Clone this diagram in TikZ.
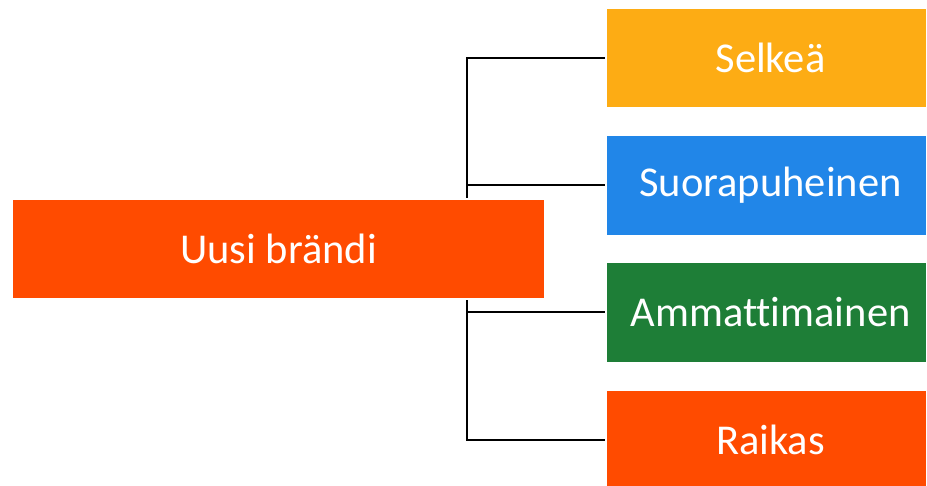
\documentclass[tikz,border=0pt]{standalone}
\usepackage{fontspec}
\setmainfont[Ligatures={NoCommon}]{Carlito}
\usetikzlibrary{backgrounds}
\definecolor{cred}{HTML}{FF4B00}
\definecolor{camber}{HTML}{FDAC14}
\definecolor{cblue}{HTML}{2186E8}
\definecolor{cgreen}{HTML}{1E7E37}
\tikzset{
  box/.style={rectangle, draw=white, line width=1.5pt, text=white, inner sep=0pt,
    font=\fontsize{42.5}{50}\selectfont},
  rbox/.style={box, minimum width=321pt, minimum height=100pt},
  conn/.style={draw=black, line width=2pt}
}
\begin{document}
\begin{tikzpicture}[x=1pt,y=-1pt]
\useasboundingbox (0,0) rectangle (927,486);
\node[box, fill=cred, minimum width=533pt, minimum height=100pt] (main) at (278.5,249) {Uusi brändi};
\node[rbox, fill=camber] (sel) at (766.5,58) {\hspace{8pt}Selkeä};
\node[rbox, fill=cblue] (suo) at (766.5,185.5) {\hspace{8pt}Suorapuheinen};
\node[rbox, fill=cgreen] (amm) at (766.5,312.5) {\hspace{8pt}Ammattimainen};
\node[rbox, fill=cred] (rai) at (766.5,440) {\hspace{8pt}Raikas};
\coordinate (jt) at (467,58);
\coordinate (jb) at (467,440);
\begin{scope}[on background layer]
\draw[conn] (sel.west) -- (jt) -- (jb) -- (rai.west);
\draw[conn] (suo.west) -- (suo.west -| jt);
\draw[conn] (amm.west) -- (amm.west -| jt);
\end{scope}
\end{tikzpicture}
\end{document}
